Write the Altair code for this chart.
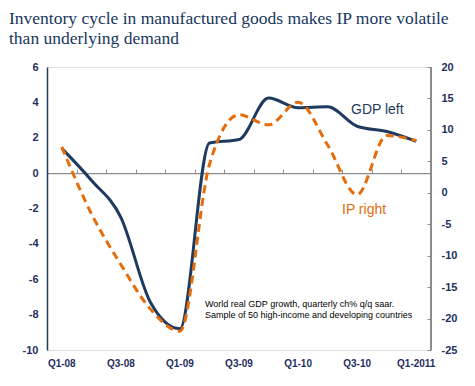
import altair as alt
import pandas as pd

quarters = ["Q1-08", "Q2-08", "Q3-08", "Q4-08", "Q1-09", "Q2-09", "Q3-09",
            "Q4-09", "Q1-10", "Q2-10", "Q3-10", "Q4-10", "Q1-2011"]
shown_labels = ["Q1-08", "Q3-08", "Q1-09", "Q3-09", "Q1-10", "Q3-10", "Q1-2011"]
gdp = [1.4, -0.4, -2.5, -7.3, -8.8, 1.7, 1.9, 4.25, 3.7, 3.75, 2.65, 2.35, 1.8]
ip = [7.3, -3.3, -11.4, -18.5, -22.0, 4.5, 12.4, 10.8, 14.4, 7.6, -0.3, 9.1, 8.3]
left_ticks = [-10, -8, -6, -4, -2, 0, 2, 4, 6]
right_ticks = [-25, -20, -15, -10, -5, 0, 5, 10, 15, 20]
title_lines = ["Inventory cycle in manufactured goods makes IP more volatile",
               "than underlying demand"]
note_lines = ["World real GDP growth, quarterly ch% q/q saar.",
              "Sample of 50 high-income and developing countries"]

W, H = 384, 283
NAVY = "#1F3A5F"
ORANGE = "#E46C0A"
LABEL = "#1F2F5F"
GREY = "#8C8C8C"

df = pd.DataFrame({"q": quarters, "gdp": gdp, "ip": ip})

x_bottom = alt.X("q:O", sort=quarters, bandPosition=0.5,
                 scale=alt.Scale(type="band", paddingInner=0, paddingOuter=0),
                 axis=alt.Axis(values=shown_labels, title=None, domain=False, ticks=False,
                               labelAngle=0, labelFont="Liberation Sans", labelFontSize=10,
                               labelFontWeight="bold", labelColor=LABEL, labelPadding=8,
                               grid=False))
x_top = alt.X("q:O", sort=quarters, bandPosition=0.5,
              scale=alt.Scale(type="band", paddingInner=0, paddingOuter=0),
              axis=alt.Axis(orient="top", offset=-H * 6 / 16, labels=False, title=None,
                            domainColor=GREY, domainWidth=1.2, tickColor=GREY, tickSize=4,
                            tickWidth=1, tickBand="extent", grid=False))

gdp_line = alt.Chart(df).mark_line(color=NAVY, strokeWidth=3, interpolate="monotone").encode(
    x=x_bottom,
    y=alt.Y("gdp:Q", scale=alt.Scale(domain=[-10, 6], nice=False),
            axis=alt.Axis(values=left_ticks, title=None, orient="left", grid=False,
                          domainColor=NAVY, domainWidth=1.5, ticks=False,
                          labelExpr="'' + datum.value",
                          labelFont="Liberation Sans", labelFontSize=11,
                          labelFontWeight="bold", labelColor=LABEL, labelPadding=9))
)

ip_line = alt.Chart(df).mark_line(color=ORANGE, strokeWidth=3, strokeDash=[8, 5],
                                  interpolate="monotone").encode(
    x=x_top,
    y=alt.Y("ip:Q", scale=alt.Scale(domain=[-25, 20], nice=False),
            axis=alt.Axis(values=right_ticks, title=None, orient="right", grid=False,
                          domain=False, offset=-4, tickColor=GREY, tickSize=4,
                          labelExpr="'' + datum.value",
                          labelFont="Liberation Sans", labelFontSize=11,
                          labelFontWeight="bold", labelColor=LABEL, labelPadding=10))
)

right_domain = alt.Chart(df).mark_rule(color=GREY, strokeWidth=1.2).encode(
    x=alt.value(W), y=alt.value(0), y2=alt.value(H))

title_df = pd.DataFrame({"t": title_lines, "i": [0, 1]})
title = alt.Chart(title_df).mark_text(
    align="left", baseline="alphabetic", font="Liberation Serif", fontSize=17.5,
    color="#17375E").encode(
    text="t:N",
    x=alt.value(-38),
    y=alt.Y("i:Q", scale=alt.Scale(domain=[0, 1], range=[-43, -23]), axis=None))

note_df = pd.DataFrame({"t": note_lines, "i": [0, 1]})
note = alt.Chart(note_df).mark_text(
    align="left", baseline="middle", font="Liberation Sans", fontSize=9,
    color="#000000").encode(
    text="t:N",
    x=alt.value(158),
    y=alt.Y("i:Q", scale=alt.Scale(domain=[0, 1], range=[237, 248]), axis=None))

gdp_lab = alt.Chart(pd.DataFrame({"t": ["GDP left"]})).mark_text(
    align="left", baseline="middle", font="Liberation Sans", fontSize=14, color=NAVY
).encode(text="t:N", x=alt.value(304), y=alt.value(43))

ip_lab = alt.Chart(pd.DataFrame({"t": ["IP right"]})).mark_text(
    align="left", baseline="middle", font="Liberation Sans", fontSize=14, color=ORANGE
).encode(text="t:N", x=alt.value(295), y=alt.value(143))

chart = alt.layer(
    right_domain, gdp_line, ip_line, title, note, gdp_lab, ip_lab
).resolve_scale(y="independent").resolve_axis(x="independent").properties(
    width=W, height=H,
    autosize=alt.AutoSizeParams(type="none"),
    padding={"left": 39, "top": 59, "right": 36, "bottom": 28},
).configure_view(stroke=None).configure(background="white")

chart.save("out.html", embed_options={"renderer": "svg", "actions": False})
